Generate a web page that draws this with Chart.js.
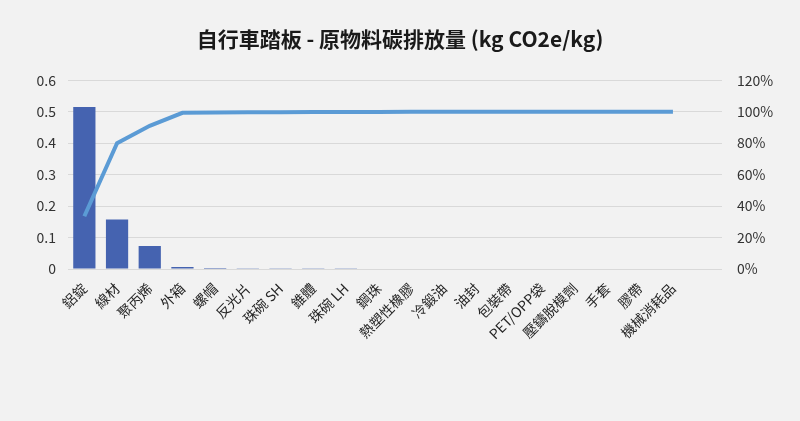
<!DOCTYPE html>
<html>
<head>
<meta charset="utf-8">
<script src="https://cdn.jsdelivr.net/npm/chart.js@4/dist/chart.umd.min.js"></script>
<style>
	html, body { margin: 0; padding: 0; background: #f2f2f2; }
	#wrap { width: 800px; height: 421px; }
</style>
</head>
<body>
<div id="wrap"><canvas id="chart" width="800" height="421"></canvas></div>
<script>
// categories (last slot is empty in the original chart)
const categories = ["鋁錠", "線材", "聚丙烯", "外箱", "螺帽", "反光片", "珠碗 SH", "錐體", "珠碗 LH", "鋼珠",
	"熱塑性橡膠", "冷鍛油", "油封", "包裝帶", "PET/OPP袋", "壓鑄脫模劑", "手套", "膠帶", "機械消耗品", ""];

// kg CO2e/kg per material
const emissions = [0.515, 0.157, 0.073, 0.006, 0.003, 0.002, 0.002, 0.002, 0.002, 0,
	0, 0, 0, 0, 0, 0, 0, 0, 0, null];

// cumulative share (%)
const cumulative = [33.5, 80, 91, 99.3, 99.5, 99.6, 99.7, 99.75, 99.8, 99.85,
	99.88, 99.9, 99.92, 99.94, 99.95, 99.96, 99.97, 99.98, 100, null];

const leftTicks = [0, 0.1, 0.2, 0.3, 0.4, 0.5, 0.6];
const rightTicks = [0, 20, 40, 60, 80, 100, 120];

const FONT = "'Noto Sans CJK TC', 'Noto Sans', sans-serif";

new Chart(document.getElementById("chart"), {
	type: "bar",
	data: {
		labels: categories,
		datasets: [
			{
				type: "line",
				data: cumulative,
				yAxisID: "y1",
				borderColor: "#5b9bd5",
				borderWidth: 4,
				pointRadius: 0,
				tension: 0,
				order: 0
			},
			{
				type: "bar",
				data: emissions,
				yAxisID: "y",
				backgroundColor: "#4563b0",
				categoryPercentage: 1,
				barPercentage: 0.68,
				order: 1
			}
		]
	},
	options: {
		responsive: false,
		animation: false,
		layout: { padding: { left: 0, right: 0, top: 0, bottom: 0 } },
		plugins: {
			legend: { display: false },
			tooltip: { enabled: false },
			title: {
				display: true,
				text: "自行車踏板 - 原物料碳排放量 (kg CO2e/kg)",
				color: "#1a1a1a",
				font: { family: FONT, size: 21, weight: "bold" },
				padding: { top: 26, bottom: 29 }
			}
		},
		scales: {
			x: {
				grid: { display: false },
				border: { display: false },
				ticks: {
					color: "#262626",
					font: { family: FONT, size: 14 },
					minRotation: 45,
					maxRotation: 45,
					autoSkip: false,
					padding: 3
				},
				afterFit: (scale) => { scale.height = 152; }
			},
			y: {
				position: "left",
				min: 0,
				max: 0.6,
				afterBuildTicks: (scale) => { scale.ticks = leftTicks.map(v => ({ value: v })); },
				grid: { color: "#d9d9d9", lineWidth: 1, drawTicks: false },
				border: { display: false },
				ticks: {
					color: "#333",
					font: { family: FONT, size: 14 },
					padding: 12,
					callback: (v) => v === 0 ? "0" : v.toFixed(1)
				},
				afterFit: (scale) => { scale.width = 68; }
			},
			y1: {
				position: "right",
				min: 0,
				max: 120,
				afterBuildTicks: (scale) => { scale.ticks = rightTicks.map(v => ({ value: v })); },
				grid: { display: false, drawTicks: false },
				border: { display: false },
				ticks: {
					color: "#333",
					font: { family: FONT, size: 14 },
					padding: 15,
					callback: (v) => v + "%"
				},
				afterFit: (scale) => { scale.width = 78; }
			}
		}
	},
	plugins: [{
		id: "bg",
		beforeDraw: (chart) => {
			const ctx = chart.ctx;
			ctx.save();
			ctx.fillStyle = "#f2f2f2";
			ctx.fillRect(0, 0, chart.width, chart.height);
			ctx.restore();
		}
	}]
});
</script>
</body>
</html>
